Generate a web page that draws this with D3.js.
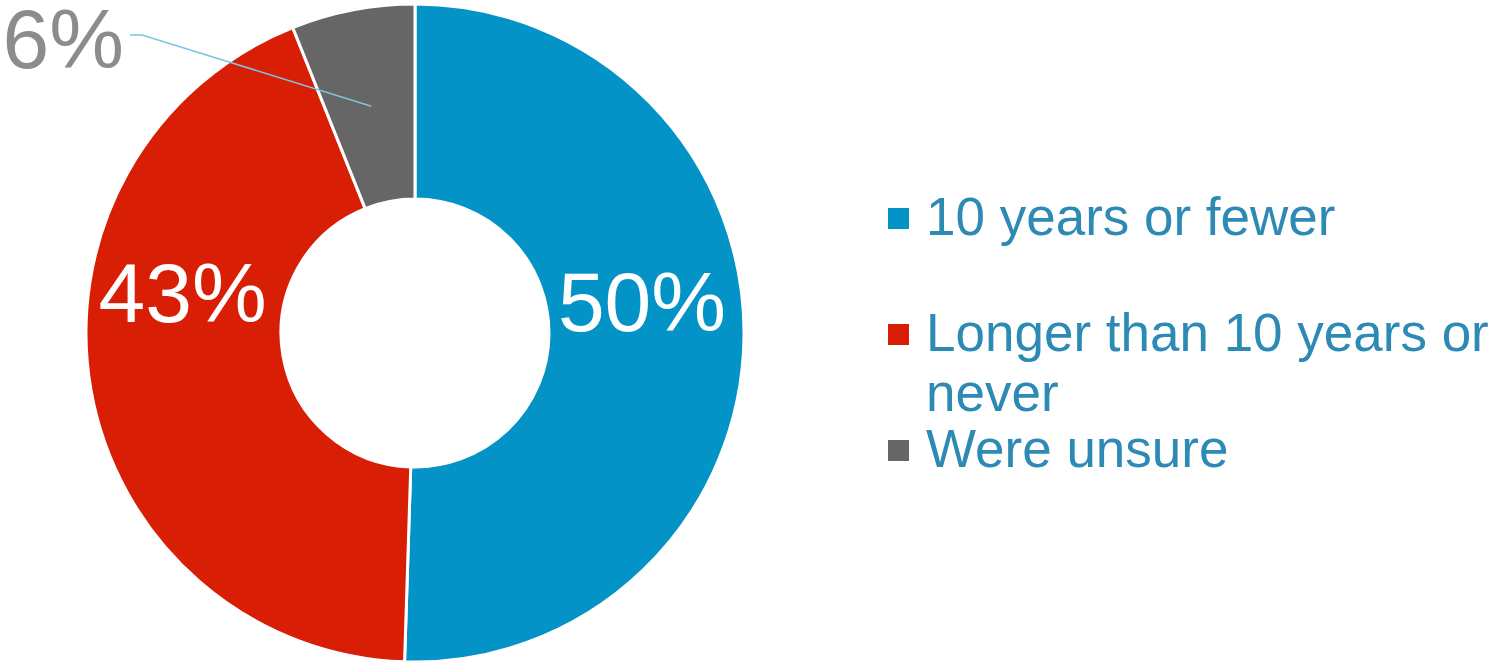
<!DOCTYPE html>
<html>
<head>
<meta charset="utf-8">
<script src="https://cdn.jsdelivr.net/npm/d3@7"></script>
<style>
  html, body { margin: 0; padding: 0; background: #fff; }
  svg { display: block; font-family: "Liberation Sans", Arial, sans-serif; }
</style>
</head>
<body>
<svg id="chart" width="1493" height="664"></svg>
<script>
// ---- data ----
const categories = ["10 years or fewer", "Longer than 10 years or never", "Were unsure"];
const values = [50, 43, 6];
const valueLabels = ["50%", "43%", "6%"];
const colors = ["#0393c7", "#d81e05", "#666666"];
const legendLines = [["10 years or fewer"], ["Longer than 10 years or", "never"], ["Were unsure"]];

// ---- layout ----
const W = 1493, H = 664;
const cx = 415, cy = 333, rOuter = 329, rInner = 134;
const svg = d3.select("#chart");

const pie = d3.pie().sort(null).value(d => d)(values);
const arc = d3.arc().innerRadius(rInner).outerRadius(rOuter);
const midArc = d3.arc().innerRadius(231).outerRadius(231);

const g = svg.append("g").attr("transform", `translate(${cx},${cy})`);
g.selectAll("path.slice").data(pie).join("path")
  .attr("class", "slice")
  .attr("d", arc)
  .attr("fill", (d, i) => colors[i])
  .attr("stroke", "#fff")
  .attr("stroke-width", 3)
  .attr("stroke-linejoin", "miter");

// inside labels (offsets relative to centroids)
const insideOffsets = [[-4, -6], [-5, -51]];
[0, 1].forEach(i => {
  const m = midArc.centroid(pie[i]);
  g.append("text")
    .attr("x", m[0] + insideOffsets[i][0])
    .attr("y", m[1] + insideOffsets[i][1])
    .attr("text-anchor", "middle")
    .attr("fill", "#fff")
    .attr("font-size", 84)
    .text(valueLabels[i]);
});

// outside label for small slice with leader line
{
  const i = 2;
  const m = midArc.centroid(pie[i]);
  const end = [cx + m[0], cy + m[1]];
  const labelAnchor = [130, 35];
  svg.append("polyline")
    .attr("points", [labelAnchor, [labelAnchor[0] + 12, labelAnchor[1]], end].map(p => p.join(",")).join(" "))
    .attr("fill", "none")
    .attr("stroke", "#7fc4e2")
    .attr("stroke-width", 1.6);
  svg.append("text")
    .attr("x", 124)
    .attr("y", 68)
    .attr("text-anchor", "end")
    .attr("fill", "#8c8c8c")
    .attr("font-size", 84)
    .text(valueLabels[i]);
}

// legend
const legendX = 888, textX = 926, fontSize = 53, lineH = 60;
const legendBaselines = [235, 351, 467];
categories.forEach((cat, i) => {
  const b = legendBaselines[i];
  svg.append("rect")
    .attr("x", legendX).attr("y", b - 27)
    .attr("width", 21).attr("height", 21)
    .attr("fill", colors[i]);
  const t = svg.append("text")
    .attr("x", textX).attr("y", b)
    .attr("fill", "#2d8ab4")
    .attr("font-size", fontSize);
  legendLines[i].forEach((ln, j) => {
    t.append("tspan").attr("x", textX).attr("y", b + j * lineH).text(ln);
  });
});
</script>
</body>
</html>
